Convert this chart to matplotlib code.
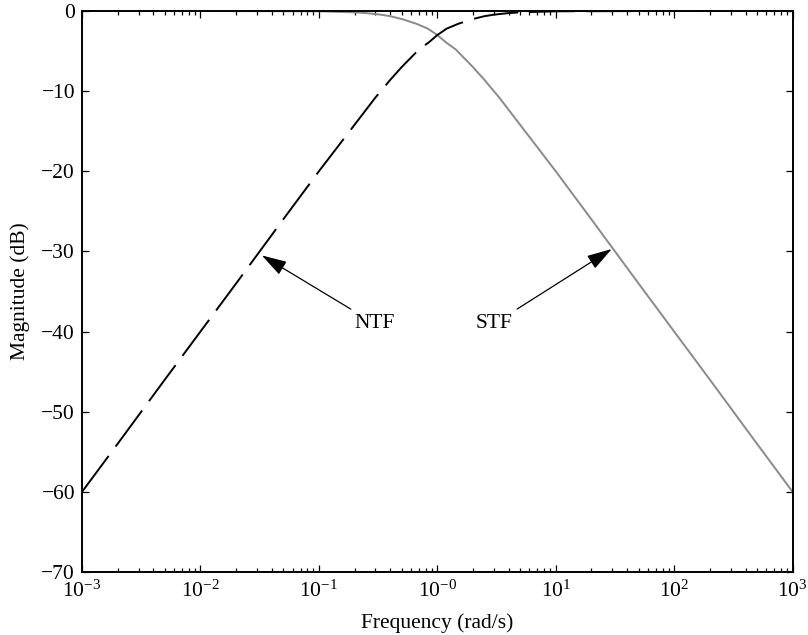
import matplotlib
matplotlib.use("Agg")
import matplotlib.pyplot as plt
from matplotlib.ticker import FixedLocator, LogLocator, NullFormatter

plt.rcParams['font.family'] = ['Liberation Serif', 'DejaVu Serif']
plt.rcParams['mathtext.fontset'] = 'custom'
plt.rcParams['mathtext.rm'] = 'Liberation Serif'
plt.rcParams['mathtext.it'] = 'Liberation Serif:italic'
plt.rcParams['mathtext.bf'] = 'Liberation Serif:bold'

# Data
ntf_freq = [0.001, 0.002, 0.005, 0.01, 0.02, 0.05, 0.1, 0.2, 0.3, 0.4, 0.5, 0.7, 0.85, 1.0, 1.2, 1.5, 2.0, 2.5, 3.0, 4.0, 5.0, 10.0, 100.0, 1000.0]
ntf_db   = [-60.0, -54.0, -46.0, -40.0, -34.0, -26.0, -20.0, -14.2, -10.8, -8.6, -7.0, -4.8, -3.9, -3.0, -2.2, -1.6, -1.0, -0.65, -0.46, -0.26, -0.17, -0.04, 0.0, 0.0]

stf_freq = [0.001, 0.01, 0.1, 0.2, 0.25, 0.333, 0.4, 0.5, 0.667, 0.83, 1.0, 1.18, 1.43, 2.0, 2.5, 3.33, 5.0, 10.0, 20.0, 50.0, 100.0, 200.0, 500.0, 1000.0]
stf_db   = [0.0, 0.0, -0.04, -0.17, -0.26, -0.46, -0.65, -1.0, -1.6, -2.2, -3.0, -3.9, -4.8, -7.0, -8.6, -10.8, -14.2, -20.0, -26.0, -34.0, -40.0, -46.0, -54.0, -60.0]

x_ticks = [1e-3, 1e-2, 1e-1, 1e0, 1e1, 1e2, 1e3]
x_tick_labels = [r'$10^{-3}$', r'$10^{-2}$', r'$10^{-1}$', r'$10^{-0}$', r'$10^{1}$', r'$10^{2}$', r'$10^{3}$']
y_ticks = [-70, -60, -50, -40, -30, -20, -10, 0]
y_tick_labels = ['\u221270', '\u221260', '\u221250', '\u221240', '\u221230', '\u221220', '\u221210', '0']

fig = plt.figure(figsize=(8.08, 6.35), dpi=100)
ax = fig.add_axes([0.1015, 0.0992, 0.8795, 0.8835])

ax.plot(stf_freq, stf_db, color='#8a8a8a', lw=1.4, zorder=2)
ax.plot(ntf_freq, ntf_db, color='black', lw=1.4, dashes=(23, 6), zorder=3)

ax.set_xscale('log')
ax.set_xlim(1e-3, 1e3)
ax.set_ylim(-70, 0)
ax.xaxis.set_major_locator(FixedLocator(x_ticks))
ax.set_xticklabels(x_tick_labels)
ax.xaxis.set_minor_locator(LogLocator(base=10, subs=range(2, 10), numticks=100))
ax.xaxis.set_minor_formatter(NullFormatter())
ax.set_yticks(y_ticks)
ax.set_yticklabels(y_tick_labels)

ax.tick_params(which='both', direction='in', top=True, right=True, labelsize=15.5, width=0.9)
ax.tick_params(axis='x', which='major', length=5, pad=6.5)
ax.tick_params(axis='y', which='major', length=5, pad=5)
ax.tick_params(which='minor', length=3)
for s in ax.spines.values():
    s.set_linewidth(1.4)

ax.set_xlabel('Frequency (rad/s)', fontsize=15.5, labelpad=8)
ax.set_ylabel('Magnitude (dB)', fontsize=15.5, labelpad=8)

arrow = dict(arrowstyle='-|>,head_length=1.0,head_width=0.3', color='black', lw=0.9,
             shrinkA=3, shrinkB=0)
ax.annotate('NTF', xy=(0.033, -30.5), xytext=(0.2, -39), fontsize=15.5,
            ha='left', va='center', arrowprops=arrow)
ax.annotate('STF', xy=(29.7, -29.7), xytext=(4.33, -39), fontsize=15.5,
            ha='right', va='center', arrowprops=arrow)

fig.savefig('out.png', dpi=100)
